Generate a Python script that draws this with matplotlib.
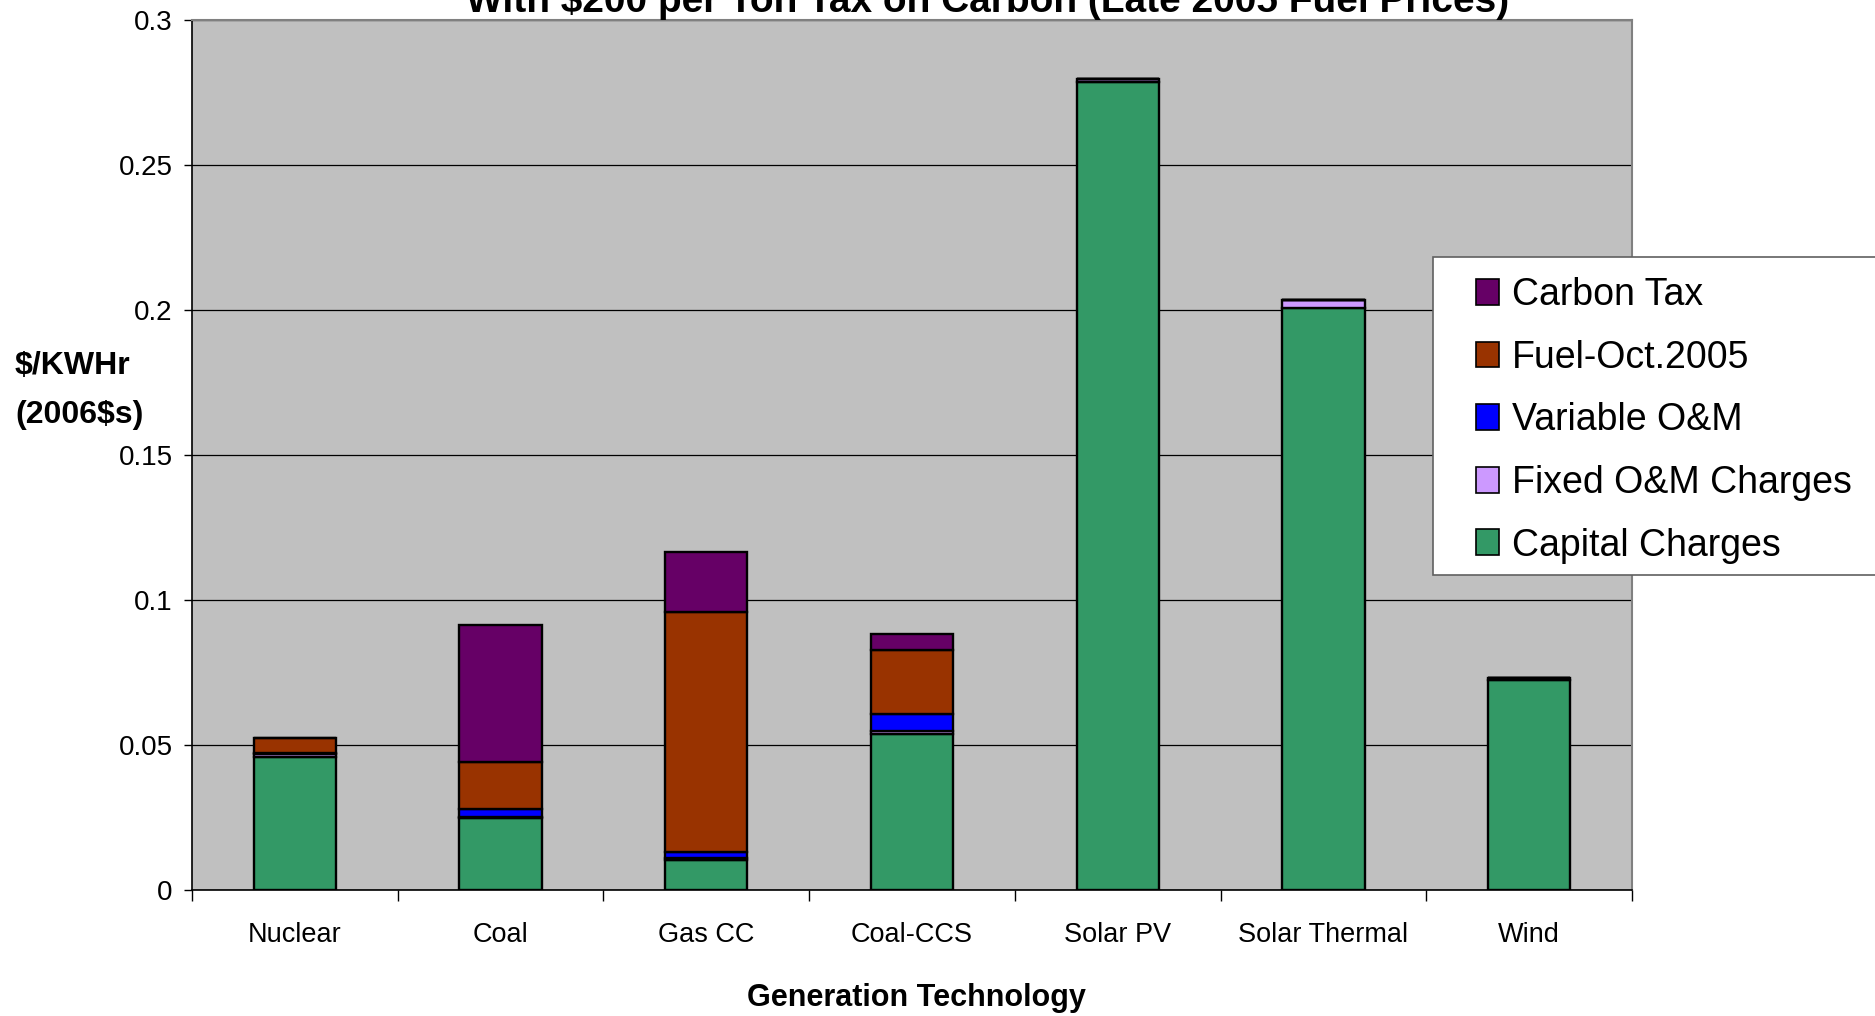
"""Stacked cost bars per generation technology, $200/ton carbon tax case.
Writes out.png
"""
import matplotlib
matplotlib.use("Agg")
import matplotlib.pyplot as plt
import numpy as np
from matplotlib.patches import Patch, Rectangle

plt.rcParams["font.family"] = ["Liberation Sans", "DejaVu Sans"]

W_PX, H_PX, DPI = 1875, 1016, 100

techs = ["Nuclear", "Coal", "Gas CC", "Coal-CCS", "Solar PV", "Solar Thermal", "Wind"]
capital = [0.0460, 0.0247, 0.0105, 0.0538, 0.2786, 0.2008, 0.0723]
fixed_om = [0.0009, 0.0006, 0.0005, 0.0011, 0.0009, 0.0025, 0.0009]
var_om = [0.0004, 0.0028, 0.0021, 0.0059, 0.0, 0.0, 0.0]
fuel = [0.0050, 0.0162, 0.0829, 0.0220, 0.0, 0.0, 0.0]
carbon = [0.0, 0.0471, 0.0204, 0.0055, 0.0, 0.0, 0.0]

# bottom -> top of the stack
series = [
    ("Capital Charges", capital, "#339966"),
    ("Fixed O&M Charges", fixed_om, "#CC99FF"),
    ("Variable O&M", var_om, "#0000FF"),
    ("Fuel-Oct.2005", fuel, "#993300"),
    ("Carbon Tax", carbon, "#660066"),
]

fig = plt.figure(figsize=(W_PX / DPI, H_PX / DPI), dpi=DPI)
ax = fig.add_axes([192 / W_PX, 1 - 890 / H_PX, (1632 - 192) / W_PX, (890 - 20) / H_PX])
ax.set_facecolor("#C0C0C0")

x = np.arange(len(techs))
bottom = np.zeros(len(techs))
for name, vals, col in series:
    vals = np.array(vals)
    ax.bar(x, vals, width=0.4, bottom=bottom, color=col, edgecolor="black",
           linewidth=1.7, zorder=3)
    bottom += vals

ax.set_xlim(-0.5, len(techs) - 0.5)
ax.set_ylim(0, 0.3)
ax.set_yticks([0, 0.05, 0.1, 0.15, 0.2, 0.25, 0.3])
ax.set_yticklabels(["0", "0.05", "0.1", "0.15", "0.2", "0.25", "0.3"], fontsize=20)
ax.yaxis.grid(True, color="black", linewidth=0.9, zorder=1)
ax.tick_params(axis="y", direction="out", length=6, width=1, pad=8)

ax.set_xticks(x)
ax.set_xticklabels(techs, fontsize=19.5)
ax.set_xticks(np.arange(-0.5, len(techs)), minor=True)
ax.tick_params(axis="x", which="major", length=0, pad=23)
ax.tick_params(axis="x", which="minor", direction="out", length=8, width=1)

for s in ("left", "bottom"):
    ax.spines[s].set_color("black")
    ax.spines[s].set_linewidth(1.2)
for s in ("top", "right"):
    ax.spines[s].set_color("#808080")
    ax.spines[s].set_linewidth(1.5)

# title is cropped at the top edge in the original
fig.text(988 / W_PX, 1 - 12.5 / H_PX,
         r"With \$200 per Ton Tax on Carbon (Late 2005 Fuel Prices)",
         ha="center", va="baseline", fontsize=28, fontweight="bold")
fig.text(916 / W_PX, 1 - 1006 / H_PX, "Generation Technology",
         ha="center", va="baseline", fontsize=22, fontweight="bold")
fig.text(15 / W_PX, 1 - 374 / H_PX, r"\$/KWHr", ha="left", va="baseline",
         fontsize=23, fontweight="bold")
fig.text(15 / W_PX, 1 - 423 / H_PX, r"(2006\$s)", ha="left", va="baseline",
         fontsize=23, fontweight="bold")

# legend box runs off the right edge
fig.add_artist(Rectangle((1433 / W_PX, 1 - 575 / H_PX), 500 / W_PX, 318 / H_PX,
                         transform=fig.transFigure, facecolor="white",
                         edgecolor="#606060", linewidth=1.2, zorder=4))
handles = [Patch(facecolor=c, edgecolor="black", linewidth=1.2, label=n)
           for n, _, c in reversed(series)]
leg = fig.legend(handles=handles, loc="upper left",
                 bbox_to_anchor=(1476 / W_PX, 1 - 277 / H_PX),
                 frameon=False, fontsize=27, borderpad=0, borderaxespad=0,
                 handlelength=0.6, handleheight=0.68, handletextpad=0.35,
                 labelspacing=0.71)
leg.set_zorder(5)

fig.savefig("out.png", dpi=DPI)
